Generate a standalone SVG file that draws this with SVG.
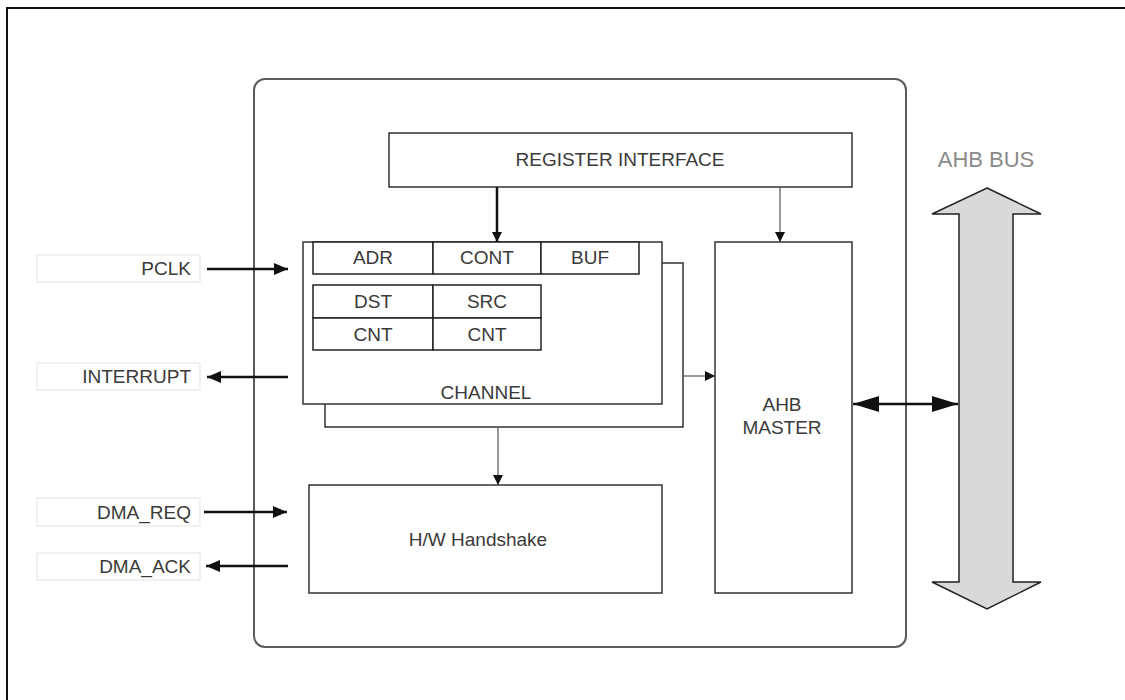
<svg xmlns="http://www.w3.org/2000/svg" width="1125" height="700" viewBox="0 0 1125 700">
<style>
  .box{fill:#fff;stroke:#333;stroke-width:1.5}
  .cell{fill:#fff;stroke:#222;stroke-width:1.5}
  .lbl{fill:#fff;stroke:#e3e3e3;stroke-width:1}
  .t{font-family:"Liberation Sans",Arial,sans-serif;font-size:19px;fill:#3a3a3a;text-anchor:middle;dominant-baseline:central}
  .tr{font-family:"Liberation Sans",Arial,sans-serif;font-size:19px;fill:#3a3a3a;text-anchor:end;dominant-baseline:central}
  .thin{stroke:#555;stroke-width:1.2;fill:none}
  .thick{stroke:#111;stroke-width:2.5;fill:none}
</style>
<defs>
  <marker id="sm" viewBox="0 0 10 10" refX="10" refY="5" markerWidth="10" markerHeight="10" markerUnits="userSpaceOnUse" orient="auto">
    <path d="M0,0 L10,5 L0,10 z" fill="#111"/>
  </marker>
  <marker id="big" viewBox="0 0 14 12" refX="14" refY="6" markerWidth="14" markerHeight="12" markerUnits="userSpaceOnUse" orient="auto-start-reverse">
    <path d="M0,0 L14,6 L0,12 z" fill="#111"/>
  </marker>
  <marker id="dbl" viewBox="0 0 26 16" refX="26" refY="8" markerWidth="26" markerHeight="16" markerUnits="userSpaceOnUse" orient="auto-start-reverse">
    <path d="M0,0 L26,8 L0,16 z" fill="#111"/>
  </marker>
</defs>
<rect width="1125" height="700" fill="#fff"/>
<path d="M7,710 L7,8 L1135,8" fill="none" stroke="#111" stroke-width="2"/>

<g id="container">
  <rect x="254" y="79" width="652" height="568" rx="11" fill="#fff" stroke="#5a5a5a" stroke-width="2"/>
</g>

<g id="register-interface">
  <rect class="box" x="389" y="133" width="463" height="54"/>
  <text class="t" x="620" y="159">REGISTER INTERFACE</text>
</g>

<g id="channel">
  <rect class="box" x="325" y="263" width="358" height="164"/>
  <rect class="box" x="303" y="242" width="359" height="162"/>
  <rect class="cell" x="313" y="242" width="120" height="32"/>
  <rect class="cell" x="433" y="242" width="108" height="32"/>
  <rect class="cell" x="541" y="242" width="98" height="32"/>
  <text class="t" x="373" y="257">ADR</text>
  <text class="t" x="487" y="257">CONT</text>
  <text class="t" x="590" y="257">BUF</text>
  <rect class="cell" x="313" y="285" width="120" height="33"/>
  <rect class="cell" x="433" y="285" width="108" height="33"/>
  <rect class="cell" x="313" y="318" width="120" height="32"/>
  <rect class="cell" x="433" y="318" width="108" height="32"/>
  <text class="t" x="373" y="301">DST</text>
  <text class="t" x="487" y="301">SRC</text>
  <text class="t" x="373" y="334">CNT</text>
  <text class="t" x="487" y="334">CNT</text>
  <text class="t" x="486" y="392">CHANNEL</text>
</g>

<g id="hw-handshake">
  <rect class="box" x="309" y="485" width="353" height="108"/>
  <text class="t" x="478" y="539">H/W Handshake</text>
</g>

<g id="ahb-master">
  <rect class="box" x="715" y="242" width="137" height="351"/>
  <text class="t" x="782" y="404">AHB</text>
  <text class="t" x="782" y="427">MASTER</text>
</g>

<g id="ahb-bus">
  <path d="M987,188 L1041,214 L1013,214 L1013,582 L1041,582 L987,609 L932,582 L959,582 L959,214 L932,214 Z" fill="#d9d9d9" stroke="#222" stroke-width="1.5" stroke-linejoin="miter"/>
  <text x="986" y="159" font-family="Liberation Sans,Arial,sans-serif" font-size="22" fill="#8a8a8a" text-anchor="middle" dominant-baseline="central">AHB BUS</text>
</g>

<g id="label-pclk">
  <rect class="lbl" x="37" y="255" width="163" height="27"/>
  <text class="tr" x="191" y="268">PCLK</text>
</g>
<g id="label-interrupt">
  <rect class="lbl" x="37" y="363" width="163" height="27"/>
  <text class="tr" x="191" y="376">INTERRUPT</text>
</g>
<g id="label-dma-req">
  <rect class="lbl" x="37" y="498" width="163" height="28"/>
  <text class="tr" x="191" y="512">DMA_REQ</text>
</g>
<g id="label-dma-ack">
  <rect class="lbl" x="37" y="553" width="163" height="27"/>
  <text class="tr" x="191" y="566">DMA_ACK</text>
</g>

<g id="connectors">
  <line class="thick" x1="497" y1="187" x2="497" y2="242" stroke-width="2" marker-end="url(#sm)"/>
  <line class="thin" x1="780" y1="187" x2="780" y2="242" marker-end="url(#sm)"/>
  <line class="thin" x1="683" y1="376" x2="715" y2="376" marker-end="url(#sm)"/>
  <line class="thin" x1="498" y1="427" x2="498" y2="485" marker-end="url(#sm)"/>
  <line class="thick" x1="207" y1="269" x2="288" y2="269" marker-end="url(#big)"/>
  <line class="thick" x1="288" y1="377" x2="207" y2="377" marker-end="url(#big)"/>
  <line class="thick" x1="204" y1="512" x2="287" y2="512" marker-end="url(#big)"/>
  <line class="thick" x1="288" y1="566" x2="206" y2="566" marker-end="url(#big)"/>
  <line class="thick" x1="853" y1="404" x2="958" y2="404" marker-start="url(#dbl)" marker-end="url(#dbl)"/>
</g>
</svg>
